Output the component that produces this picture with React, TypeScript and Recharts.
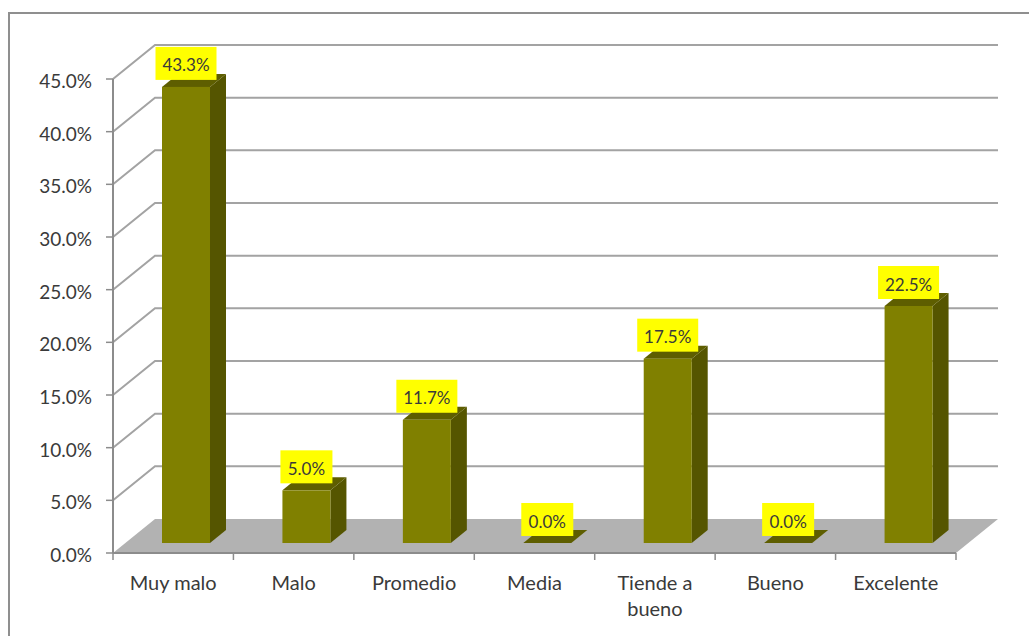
import { BarChart, Bar, XAxis, YAxis, CartesianGrid, LabelList } from "recharts";

const categories = ["Muy malo", "Malo", "Promedio", "Media", "Tiende a bueno", "Bueno", "Excelente"];
const values = [43.3, 5.0, 11.7, 0.0, 17.5, 0.0, 22.5];
const yTicks = [0, 5, 10, 15, 20, 25, 30, 35, 40, 45];
const wrappedLabels: Record<string, string[]> = { "Tiende a bueno": ["Tiende a", "bueno"] };

const data = categories.map((name, i) => ({ name, value: values[i] }));

const FONT = "Lato, 'Open Sans', sans-serif";
const GRID = "#a3a3a3";
const AXIS = "#8c8c8c";
const TEXT = "#3a3a3a";

const PLOT_W = 843;
const STEP = PLOT_W / categories.length;
// fake 3d offsets: back wall depth, and where the bars sit inside it
const WALL_X = 42;
const WALL_Y = 34;
const BAR_X = 13;
const BAR_Y = 10;
const SIDE_X = 16;
const SIDE_Y = 13;

function WallLine(props: any) {
  const { x1, y1, x2, y2 } = props;
  const isFloor = Math.abs(y1 - 553) < 1;
  if (isFloor) {
    return (
      <polygon
        points={`${x1},${y1} ${x2},${y2} ${x2 + WALL_X},${y2 - WALL_Y} ${x1 + WALL_X},${y1 - WALL_Y}`}
        fill="#b2b2b2"
      />
    );
  }
  return (
    <polyline
      points={`${x1},${y1} ${x1 + WALL_X},${y1 - WALL_Y} ${x2 + WALL_X},${y2 - WALL_Y}`}
      fill="none"
      stroke={GRID}
      strokeWidth={2}
    />
  );
}

function Bar3D(props: any) {
  const { x, y, width, height } = props;
  const l = x + BAR_X;
  const r = l + width;
  const t = y - BAR_Y;
  const b = t + height;
  return (
    <g>
      <polygon
        points={`${r},${t} ${r + SIDE_X},${t - SIDE_Y} ${r + SIDE_X},${b - SIDE_Y} ${r},${b}`}
        fill="#555500"
      />
      <polygon
        points={`${l},${t} ${l + SIDE_X},${t - SIDE_Y} ${r + SIDE_X},${t - SIDE_Y} ${r},${t}`}
        fill="#5e5e00"
      />
      <rect x={l} y={t} width={width} height={height} fill="#808000" />
    </g>
  );
}

function ValueLabel(props: any) {
  const { x, y, width, value } = props;
  const cx = x + width / 2 + BAR_X;
  const bottom = y - BAR_Y - 7;
  const text = `${Number(value).toFixed(1)}%`;
  const w = text.length > 4 ? 61 : 52;
  return (
    <g>
      <rect x={cx - w / 2} y={bottom - 33} width={w} height={33} fill="#ffff00" />
      <text
        x={cx}
        y={bottom - 15}
        textAnchor="middle"
        dominantBaseline="central"
        fontFamily={FONT}
        fontSize={17}
        fill={TEXT}
      >
        {text}
      </text>
    </g>
  );
}

function CategoryTick(props: any) {
  const { x, payload, index } = props;
  const tickY = 553;
  const lines = wrappedLabels[payload.value] ?? [payload.value];
  return (
    <g>
      <line x1={x - STEP / 2} y1={tickY} x2={x - STEP / 2} y2={tickY + 7} stroke={AXIS} strokeWidth={1.5} />
      {index === categories.length - 1 && (
        <line x1={x + STEP / 2} y1={tickY} x2={x + STEP / 2} y2={tickY + 7} stroke={AXIS} strokeWidth={1.5} />
      )}
      <text textAnchor="middle" fontFamily={FONT} fontSize={20} fill={TEXT}>
        {lines.map((line: string, i: number) => (
          <tspan key={line} x={x} y={590 + i * 26}>
            {line}
          </tspan>
        ))}
      </text>
    </g>
  );
}

function ValueTick(props: any) {
  const { y, payload } = props;
  return (
    <text x={92} y={y + 9} textAnchor="end" fontFamily={FONT} fontSize={19} fill={TEXT}>
      {`${payload.value.toFixed(1)}%`}
    </text>
  );
}

export default function App() {
  return (
    <div style={{ position: "absolute", left: 0, top: 0, width: 1029, height: 636, background: "#fff", overflow: "hidden" }}>
      <div
        style={{
          position: "absolute",
          left: 8,
          top: 12,
          width: 1040,
          height: 640,
          border: "2px solid #8f8f8f",
          boxSizing: "border-box",
        }}
      />
      <BarChart
        width={1029}
        height={636}
        data={data}
        margin={{ top: 79, right: 73, bottom: 0, left: 0 }}
        barSize={48}
        style={{ position: "absolute", left: 0, top: 0 }}
      >
        <CartesianGrid vertical={false} horizontal={WallLine} />
        <XAxis
          dataKey="name"
          interval={0}
          height={83}
          tickLine={false}
          tick={CategoryTick}
          axisLine={{ stroke: AXIS, strokeWidth: 2 }}
        />
        <YAxis
          domain={[0, 45]}
          ticks={yTicks}
          width={113}
          interval={0}
          tick={ValueTick}
          tickSize={7}
          tickLine={{ stroke: AXIS, strokeWidth: 1.5 }}
          axisLine={{ stroke: AXIS, strokeWidth: 2 }}
        />
        <Bar dataKey="value" shape={Bar3D} isAnimationActive={false}>
          <LabelList dataKey="value" content={ValueLabel} />
        </Bar>
      </BarChart>
    </div>
  );
}
